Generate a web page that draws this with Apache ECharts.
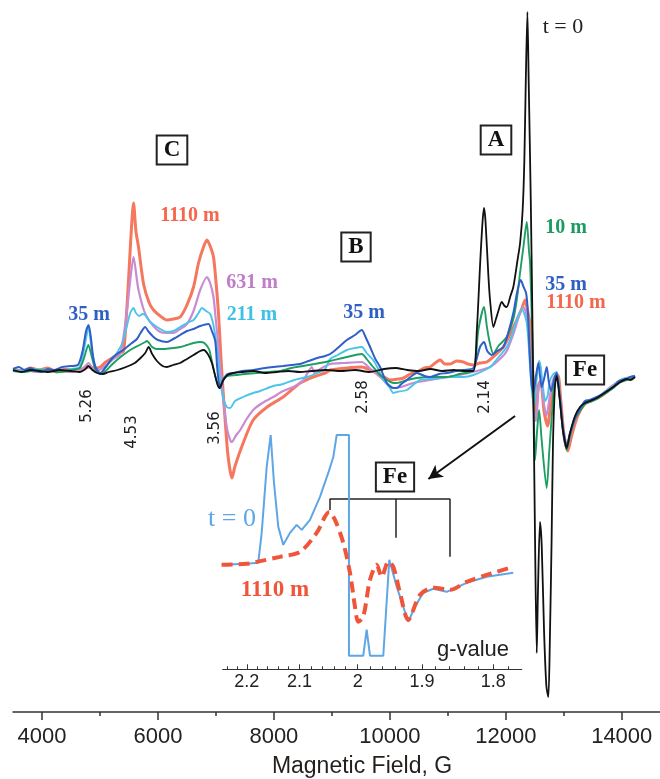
<!DOCTYPE html>
<html><head><meta charset="utf-8">
<script src="https://cdn.jsdelivr.net/npm/echarts@6/dist/echarts.min.js"></script>
<style>html,body{margin:0;padding:0;background:#fff}#c{width:660px;height:779px}</style>
</head><body><div id="c"></div>
<script>
// ---- axis ticks ----
const fieldTicks = [4000, 6000, 8000, 10000, 12000, 14000];
const fieldMinorTicks = [5000, 7000, 9000, 11000, 13000];
const gTicks = [2.2, 2.1, 2.0, 1.9, 1.8];
const gMinorTicks = [2.24,2.22,2.18,2.16,2.14,2.12,2.08,2.06,2.04,2.02,1.98,1.96,1.94,1.92,1.88,1.86,1.84,1.82,1.78];

// ---- main spectra: [field (G), intensity (a.u.)] ----
const spec0 = [[3500,1],[3650,-1],[3800,1],[3950,0],[4100,-1],[4300,1],[4500,0],[4650,-1],[4750,2],[4800,5],[4870,1],[4950,-2],[5050,-3],[5150,-1],[5300,1],[5450,4],[5600,8],[5700,13],[5780,18],[5840,24],[5900,17],[5983,10],[6080,5],[6155,4],[6264,6],[6384,8],[6500,12],[6614,16],[6729,20],[6790,21],[6870,16],[6930,8],[6988,-5],[7030,-14],[7060,-17],[7120,-10],[7200,-4],[7300,-2],[7450,-1],[7650,0],[7850,-2],[8050,-1],[8250,0],[8450,-1],[8650,0],[8900,1],[9150,0],[9400,1],[9650,-1],[9900,2],[10100,3],[10300,1],[10500,0],[10700,2],[10900,0],[11100,1],[11300,0],[11441,0],[11500,40],[11560,110],[11600,150],[11625,163],[11650,150],[11700,95],[11730,70],[11786,44],[11830,52],[11872,60],[11930,69],[11980,65],[12017,64],[12080,75],[12130,84],[12200,110],[12247,128],[12290,160],[12320,210],[12345,290],[12373,359],[12395,290],[12431,171],[12471,0],[12505,-170],[12534,-282],[12555,-220],[12590,-151],[12620,-175],[12660,-260],[12700,-315],[12734,-326],[12760,-270],[12790,-170],[12815,-70],[12849,-15],[12879,-5],[12930,-28],[12988,-60],[13051,-77],[13108,-62],[13194,-45],[13280,-36],[13366,-32],[13450,-30],[13568,-27],[13700,-22],[13854,-16],[13950,-12],[14085,-8],[14150,-9],[14228,-6]];
const spec10 = [[3500,0],[3700,-1],[3900,1],[4100,0],[4300,-1],[4500,1],[4650,3],[4720,12],[4800,26],[4860,14],[4920,2],[5005,-3],[5100,0],[5200,6],[5293,11],[5400,16],[5522,21],[5650,25],[5781,29],[5810,30],[5900,24],[5983,22],[6100,22],[6264,23],[6384,24],[6500,26],[6614,28],[6729,29],[6800,28],[6880,22],[6930,10],[6988,-5],[7040,-15],[7070,-17],[7120,-9],[7200,-5],[7350,-4],[7500,-3],[7700,-2],[7900,-1],[8100,0],[8300,3],[8500,5],[8700,7],[8970,10],[9258,14],[9517,17],[9600,12],[9712,4],[9832,-4],[9948,-9],[10062,-12],[10121,-12],[10300,-9],[10465,-7],[10700,-6],[10982,-6],[11200,-3],[11441,1],[11527,41],[11625,64],[11672,45],[11717,30],[11786,17],[11872,25],[12017,34],[12130,52],[12189,71],[12250,100],[12304,124],[12362,149],[12400,120],[12419,108],[12450,50],[12476,-20],[12505,-89],[12540,-60],[12574,-39],[12620,-70],[12706,-117],[12750,-80],[12792,-46],[12840,-10],[12879,-3],[12930,-25],[12988,-60],[13051,-79],[13108,-65],[13194,-48],[13280,-40],[13366,-33],[13450,-31],[13568,-28],[13700,-23],[13854,-17],[13950,-12],[14085,-9],[14150,-8],[14228,-6]];
const spec35 = [[3500,2],[3600,4],[3700,1],[3800,3],[3900,0],[4000,-1],[4100,2],[4200,1],[4350,4],[4500,5],[4620,6],[4700,20],[4760,40],[4803,46],[4840,35],[4880,15],[4930,3],[5005,-2],[5100,4],[5200,12],[5293,17],[5400,21],[5465,24],[5550,28],[5638,32],[5700,38],[5781,44],[5830,40],[5924,34],[6000,31],[6155,29],[6264,32],[6384,36],[6500,40],[6614,42],[6729,45],[6872,47],[6930,40],[6988,30],[7020,5],[7045,-9],[7074,-17],[7130,-8],[7200,-3],[7298,-2],[7450,0],[7650,1],[7850,3],[7988,4],[8160,5],[8300,6],[8453,7],[8600,10],[8750,13],[8884,15],[8970,17],[9100,23],[9258,31],[9400,36],[9517,41],[9580,34],[9660,24],[9750,12],[9832,4],[9948,-12],[10062,-17],[10121,-17],[10200,-13],[10293,-9],[10400,-4],[10465,-2],[10600,-5],[10695,-6],[10850,-3],[10982,-2],[11150,0],[11269,1],[11441,3],[11556,24],[11625,29],[11680,20],[11758,16],[11850,20],[11958,24],[12050,40],[12130,58],[12200,80],[12259,91],[12300,85],[12350,78],[12380,60],[12407,24],[12440,-10],[12476,-22],[12520,-5],[12562,8],[12590,-5],[12620,-16],[12660,-8],[12706,4],[12740,-10],[12780,-20],[12849,-5],[12879,-2],[12930,-25],[12988,-58],[13051,-75],[13108,-62],[13194,-47],[13280,-38],[13366,-30],[13450,-29],[13568,-26],[13700,-22],[13854,-16],[13950,-10],[14085,-8],[14150,-6],[14228,-5]];
const spec211 = [[3500,1],[3700,0],[3900,2],[4100,1],[4300,0],[4500,2],[4650,4],[4720,20],[4790,42],[4803,44],[4850,25],[4900,8],[4950,0],[5005,-3],[5091,3],[5178,10],[5293,18],[5400,30],[5465,45],[5522,58],[5579,63],[5620,58],[5680,55],[5740,57],[5781,56],[5850,50],[5983,44],[6155,39],[6264,40],[6384,44],[6500,48],[6614,51],[6700,58],[6758,63],[6830,60],[6902,57],[6960,45],[7017,24],[7074,-9],[7130,-28],[7189,-36],[7246,-37],[7330,-30],[7470,-26],[7643,-22],[7764,-20],[7988,-15],[8160,-13],[8350,-9],[8568,-6],[8750,-2],[8884,2],[8970,12],[9100,16],[9258,21],[9400,23],[9517,24],[9600,18],[9712,11],[9800,2],[9889,-9],[9990,-16],[10062,-22],[10121,-21],[10293,-19],[10400,-14],[10523,-9],[10695,-8],[10868,-7],[11039,-6],[11269,-6],[11441,-4],[11729,4],[11850,12],[12017,24],[12100,35],[12189,51],[12276,62],[12362,48],[12419,4],[12450,-20],[12490,-35],[12530,-10],[12574,10],[12600,5],[12640,-15],[12680,-30],[12720,-25],[12760,-10],[12820,-3],[12879,-1],[12930,-25],[12988,-58],[13051,-76],[13108,-63],[13194,-46],[13280,-37],[13366,-31],[13450,-30],[13568,-27],[13700,-21],[13854,-15],[13950,-10],[14085,-7],[14150,-7],[14228,-5]];
const spec631 = [[3500,0],[3700,1],[3900,-1],[4100,1],[4300,0],[4500,-1],[4650,1],[4750,5],[4803,8],[4870,3],[4950,0],[5091,5],[5234,12],[5350,17],[5465,60],[5522,91],[5579,114],[5640,90],[5665,81],[5750,62],[5810,54],[5920,45],[6039,39],[6155,38],[6264,38],[6384,42],[6500,47],[6614,60],[6729,81],[6845,94],[6900,88],[6958,74],[7000,50],[7045,24],[7103,-16],[7160,-45],[7200,-60],[7246,-69],[7276,-71],[7340,-65],[7419,-59],[7530,-48],[7643,-39],[7800,-32],[7988,-26],[8160,-20],[8332,-16],[8500,-10],[8654,4],[8700,-2],[8800,2],[8970,7],[9200,8],[9517,9],[9650,3],[9832,-6],[10062,-17],[10200,-16],[10400,-12],[10695,-9],[10900,-7],[11200,-4],[11500,0],[11729,4],[11900,12],[12017,20],[12130,37],[12304,64],[12350,58],[12400,36],[12440,-5],[12480,-35],[12520,-50],[12560,-20],[12600,-10],[12650,-30],[12700,-45],[12760,-25],[12820,-8],[12879,-3],[12930,-26],[12988,-60],[13051,-78],[13108,-66],[13194,-48],[13280,-38],[13366,-32],[13450,-30],[13568,-27],[13700,-21],[13854,-14],[13950,-10],[14085,-7],[14150,-6],[14228,-5]];
const spec1110 = [[3500,2],[3650,0],[3800,3],[3950,1],[4100,3],[4250,-1],[4400,2],[4550,0],[4700,2],[4803,4],[4900,3],[5005,4],[5100,9],[5234,14],[5350,18],[5407,20],[5450,50],[5493,91],[5540,140],[5579,168],[5620,140],[5665,124],[5752,87],[5850,68],[5924,61],[6039,55],[6155,51],[6264,52],[6384,54],[6500,66],[6614,84],[6700,108],[6786,124],[6845,131],[6900,125],[6958,114],[7000,90],[7045,57],[7090,10],[7131,-26],[7200,-80],[7246,-100],[7276,-107],[7330,-95],[7470,-72],[7643,-49],[7884,-36],[8160,-26],[8453,-12],[8677,-6],[8884,-2],[8970,1],[9258,3],[9517,4],[9660,1],[9775,-2],[9900,-6],[10005,-9],[10150,-8],[10235,-7],[10350,-3],[10465,-1],[10600,3],[10695,4],[10868,11],[10950,7],[11039,7],[11150,10],[11269,9],[11350,7],[11441,6],[11550,8],[11672,9],[11800,15],[11958,24],[12100,40],[12189,51],[12280,63],[12333,71],[12370,62],[12407,51],[12440,20],[12476,-9],[12520,-45],[12560,-15],[12600,-10],[12660,-40],[12720,-55],[12780,-30],[12849,-8],[12900,-4],[12950,-30],[13000,-62],[13070,-80],[13130,-66],[13220,-48],[13300,-38],[13380,-32],[13470,-30],[13590,-27],[13720,-22],[13870,-15],[13970,-11],[14100,-8],[14170,-7],[14228,-5]];

// ---- inset spectra: [g-value, intensity] ----
const insetT0 = [[2.251,0],[2.2,1],[2.1775,2],[2.1708,32],[2.1612,98],[2.1536,130],[2.1473,82],[2.1392,38],[2.1299,20],[2.1175,32],[2.1053,40],[2.0962,35],[2.0814,45],[2.0638,68],[2.0494,92],[2.0408,108],[2.035,130],[2.0144,130],[2.0144,-91],[1.9909,-91],[1.9854,-65],[1.98,-91],[1.9589,-91],[1.9495,5],[1.938,-22],[1.9204,-57],[1.9103,-42],[1.898,-28],[1.8833,-24],[1.864,-27],[1.836,-18],[1.8087,-12],[1.7738,-8]];
const inset1110 = [[2.251,0],[2.2,1],[2.1805,3],[2.136,8],[2.0992,13],[2.0696,32],[2.0477,53],[2.0379,45],[2.0239,22],[2.0127,-8],[2.0044,-42],[1.999,-57],[1.9909,-52],[1.98,-15],[1.9693,0],[1.9614,-12],[1.9511,3],[1.9433,-2],[1.933,-28],[1.9204,-55],[1.9028,-30],[1.8833,-23],[1.8593,-25],[1.836,-17],[1.8087,-10],[1.7738,-2]];
const feBracketG = [2.047, 1.939, 1.859];
const feBracketBottom = [55, 27, 8];
const feBracketTop = 66;

const toRecip = arr => arr.map(p => [1 / p[0], p[1]]);
const serif = '"Liberation Serif", "Times New Roman", serif';
const sans = '"Liberation Sans", Arial, sans-serif';

const chart = echarts.init(document.getElementById('c'), null, {renderer: 'canvas'});

function mainLine(name, data, color, width, z) {
  return {name, type: 'line', data, xAxisIndex: 0, yAxisIndex: 0, showSymbol: false, smooth: 0.25,
    lineStyle: {color, width}, z, silent: true};
}

const brackets = [
  [{coord: [1 / feBracketG[0], feBracketTop]}, {coord: [1 / feBracketG[2], feBracketTop]}]
].concat(feBracketG.map((g, i) => [{coord: [1 / g, feBracketTop]}, {coord: [1 / g, feBracketBottom[i]]}]));

function boxText(text, x, y) {
  return {type: 'text', x, y, z: 100, style: {text, font: 'bold 23px ' + serif, fill: '#111',
    align: 'center', verticalAlign: 'middle', backgroundColor: '#fff', borderColor: '#222', borderWidth: 2, padding: [3, 6, 1, 6]}};
}
function label(text, x, y, color, size, bold) {
  return {type: 'text', x, y, z: 100, style: {text, font: (bold ? 'bold ' : '') + size + 'px ' + serif, fill: color,
    align: 'center', verticalAlign: 'middle'}};
}
function gLabel(text, x, y) {
  return {type: 'text', x, y, rotation: Math.PI / 2, z: 100, style: {text, font: '15px "DejaVu Sans", sans-serif', fill: '#222',
    align: 'center', verticalAlign: 'middle'}};
}

const option = {
  animation: false,
  backgroundColor: '#fff',
  grid: [
    {left: 13, top: 0, width: 647, height: 712, containLabel: false},
    {left: 222.7, top: 435, width: 299, height: 234.3, containLabel: false}
  ],
  xAxis: [
    {type: 'value', gridIndex: 0, min: 3500, max: 14660, position: 'bottom',
     axisLine: {show: true, onZero: false, lineStyle: {color: '#333', width: 1.5}},
     axisTick: {show: true, customValues: fieldTicks, length: 8, lineStyle: {color: '#333', width: 1.5}},
     axisLabel: {show: true, customValues: fieldTicks, margin: 14, color: '#222', fontSize: 22, fontFamily: sans,
       formatter: v => String(v)},
     splitLine: {show: false}},
    {type: 'value', gridIndex: 0, min: 3500, max: 14660, position: 'bottom',
     axisLine: {show: false, onZero: false},
     axisTick: {show: true, customValues: fieldMinorTicks, length: 4, lineStyle: {color: '#333', width: 1.5}},
     axisLabel: {show: false}, splitLine: {show: false}},
    {type: 'value', gridIndex: 1, min: 1 / 2.2488, max: 1 / 1.763, position: 'bottom',
     axisLine: {show: true, onZero: false, lineStyle: {color: '#333', width: 1.2}},
     axisTick: {show: true, inside: true, customValues: gTicks.map(g => 1 / g), length: 5, lineStyle: {color: '#333'}},
     axisLabel: {show: true, customValues: gTicks.map(g => 1 / g), margin: 4, color: '#222', fontSize: 18, fontFamily: sans,
       formatter: v => String(Math.round(100 / v) / 100)},
     splitLine: {show: false}},
    {type: 'value', gridIndex: 1, min: 1 / 2.2488, max: 1 / 1.763, position: 'bottom',
     axisLine: {show: false, onZero: false},
     axisTick: {show: true, inside: true, customValues: gMinorTicks.map(g => 1 / g), length: 3, lineStyle: {color: '#333'}},
     axisLabel: {show: false}, splitLine: {show: false}}
  ],
  yAxis: [
    {type: 'value', gridIndex: 0, min: -341, max: 371, show: false},
    {type: 'value', gridIndex: 1, min: -104.6, max: 130, show: false}
  ],
  series: [
    mainLine('1110 m', spec1110, '#f5775e', 3, 1),
    mainLine('631 m', spec631, '#c98bd3', 2.2, 2),
    mainLine('211 m', spec211, '#4cc4ea', 1.9, 3),
    mainLine('10 m', spec10, '#1f9e64', 1.9, 4),
    mainLine('35 m', spec35, '#2f5fc8', 2, 5),
    Object.assign(mainLine('t = 0', spec0, '#111', 1.8, 6), {
      markLine: {silent: true, symbol: ['none', 'arrow'], symbolSize: [11, 14],
        lineStyle: {color: '#111', width: 2, type: 'solid'}, label: {show: false},
        data: [[{coord: [12160, -45]}, {coord: [10665, -108]}]]}
    }),
    {name: 'inset t = 0', type: 'line', xAxisIndex: 2, yAxisIndex: 1, data: toRecip(insetT0), showSymbol: false,
     smooth: false, lineStyle: {color: '#5ea6e6', width: 2}, z: 7, silent: true,
     markLine: {silent: true, symbol: 'none', lineStyle: {color: '#222', width: 1.5, type: 'solid'}, label: {show: false}, data: brackets}},
    {name: 'inset 1110 m', type: 'line', xAxisIndex: 2, yAxisIndex: 1, data: toRecip(inset1110), showSymbol: false,
     smooth: 0.3, lineStyle: {color: '#f0553a', width: 4, type: [11, 6]}, z: 8, silent: true}
  ],
  graphic: [
    boxText('C', 172, 150),
    boxText('B', 356, 247),
    boxText('A', 496, 140),
    boxText('Fe', 585, 370),
    boxText('Fe', 395, 477),
    label('t = 0', 563, 27, '#222', 22, false),
    label('1110 m', 190, 216, '#f4674d', 20, true),
    label('631 m', 252, 283, '#c17ccb', 20, true),
    label('211 m', 252, 315, '#3fc1e6', 20, true),
    label('35 m', 89, 315, '#2f5ec4', 20, true),
    label('35 m', 364, 313, '#2f5ec4', 20, true),
    label('10 m', 566, 228, '#1b9a62', 20, true),
    label('35 m', 566, 285, '#2f5ec4', 20, true),
    label('1110 m', 576, 303, '#f4674d', 20, true),
    label('t = 0', 232, 519, '#5ea6e6', 26, false),
    label('1110 m', 275, 590, '#f0553a', 23, true),
    {type: 'text', x: 473, y: 650, z: 100, style: {text: 'g-value', font: '22px ' + sans, fill: '#222', align: 'center', verticalAlign: 'middle'}},
    {type: 'text', x: 362, y: 767, z: 100, style: {text: 'Magnetic Field, G', font: '23px ' + sans, fill: '#231f1c', align: 'center', verticalAlign: 'middle'}},
    gLabel('5.26', 87, 406),
    gLabel('4.53', 132, 432),
    gLabel('3.56', 215, 428),
    gLabel('2.58', 363, 397),
    gLabel('2.14', 485, 397)
  ]
};
chart.setOption(option);
</script>
</body></html>
